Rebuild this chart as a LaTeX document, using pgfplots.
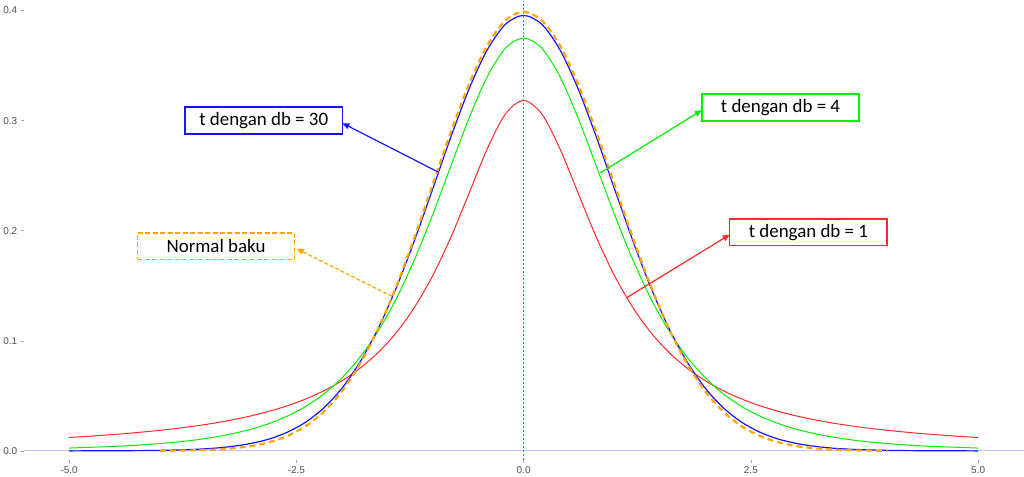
\documentclass[border=0pt]{standalone}
\usepackage{fontspec}
\setmainfont{Carlito}
\newfontfamily\tickfont{Liberation Sans}
\usepackage{pgfplots}
\usepackage{pgfplotstable}
\pgfplotsset{compat=1.18}
\usetikzlibrary{arrows.meta}

\definecolor{cred}{RGB}{255,40,40}
\definecolor{cgreen}{RGB}{0,240,0}
\definecolor{cblue}{RGB}{20,20,255}
\definecolor{corange}{RGB}{255,165,0}
\definecolor{zeroline}{RGB}{190,190,255}
\definecolor{midred}{RGB}{255,70,70}
\definecolor{tickgrey}{RGB}{77,77,77}

% densitas t (db = 1, 4, 30)
\pgfplotstableread{
x t1 t4 t30
-5.0 0.0122 0.0026 0.0000
-4.8 0.0132 0.0032 0.0001
-4.6 0.0144 0.0038 0.0001
-4.4 0.0156 0.0045 0.0002
-4.2 0.0171 0.0055 0.0003
-4.0 0.0187 0.0067 0.0005
-3.8 0.0206 0.0082 0.0009
-3.6 0.0228 0.0101 0.0015
-3.4 0.0253 0.0126 0.0025
-3.2 0.0283 0.0157 0.0042
-3.0 0.0318 0.0197 0.0068
-2.8 0.0360 0.0249 0.0108
-2.6 0.0410 0.0316 0.0170
-2.4 0.0471 0.0403 0.0260
-2.2 0.0545 0.0516 0.0389
-2.0 0.0637 0.0663 0.0568
-1.8 0.0751 0.0851 0.0807
-1.6 0.0894 0.1089 0.1112
-1.4 0.1075 0.1384 0.1483
-1.2 0.1305 0.1739 0.1913
-1.0 0.1592 0.2147 0.2380
-0.8 0.1941 0.2588 0.2852
-0.6 0.2341 0.3023 0.3288
-0.4 0.2744 0.3400 0.3643
-0.2 0.3061 0.3658 0.3875
0.0 0.3183 0.3750 0.3956
0.2 0.3061 0.3658 0.3875
0.4 0.2744 0.3400 0.3643
0.6 0.2341 0.3023 0.3288
0.8 0.1941 0.2588 0.2852
1.0 0.1592 0.2147 0.2380
1.2 0.1305 0.1739 0.1913
1.4 0.1075 0.1384 0.1483
1.6 0.0894 0.1089 0.1112
1.8 0.0751 0.0851 0.0807
2.0 0.0637 0.0663 0.0568
2.2 0.0545 0.0516 0.0389
2.4 0.0471 0.0403 0.0260
2.6 0.0410 0.0316 0.0170
2.8 0.0360 0.0249 0.0108
3.0 0.0318 0.0197 0.0068
3.2 0.0283 0.0157 0.0042
3.4 0.0253 0.0126 0.0025
3.6 0.0228 0.0101 0.0015
3.8 0.0206 0.0082 0.0009
4.0 0.0187 0.0067 0.0005
4.2 0.0171 0.0055 0.0003
4.4 0.0156 0.0045 0.0002
4.6 0.0144 0.0038 0.0001
4.8 0.0132 0.0032 0.0001
5.0 0.0122 0.0026 0.0000
}\tdata

% normal baku
\pgfplotstableread{
x z
-4.0 0.0001
-3.8 0.0003
-3.6 0.0006
-3.4 0.0012
-3.2 0.0024
-3.0 0.0044
-2.8 0.0079
-2.6 0.0136
-2.4 0.0224
-2.2 0.0355
-2.0 0.0540
-1.8 0.0790
-1.6 0.1109
-1.4 0.1497
-1.2 0.1942
-1.0 0.2420
-0.8 0.2897
-0.6 0.3332
-0.4 0.3683
-0.2 0.3910
0.0 0.3989
0.2 0.3910
0.4 0.3683
0.6 0.3332
0.8 0.2897
1.0 0.2420
1.2 0.1942
1.4 0.1497
1.6 0.1109
1.8 0.0790
2.0 0.0540
2.2 0.0355
2.4 0.0224
2.6 0.0136
2.8 0.0079
3.0 0.0044
3.2 0.0024
3.4 0.0012
3.6 0.0006
3.8 0.0003
4.0 0.0001
}\zdata

\begin{document}
\begin{tikzpicture}
\begin{axis}[
    scale only axis,
    width=1004pt, height=461pt,
    xmin=-5.5, xmax=5.5,
    ymin=-0.008, ymax=0.409,
    axis line style={draw=none},
    xtick={-5,-2.5,0,2.5,5},
    ytick={0,0.1,0.2,0.3,0.4},
    tick align=outside,
    major tick length=3pt,
    tick style={gray!70, line width=0.6pt},
    xtick pos=bottom, ytick pos=left,
    ticklabel style={font=\tickfont\fontsize{10}{10}\selectfont, text=tickgrey},
    /pgf/number format/.cd, fixed, fixed zerofill, precision=1, assume math mode=true,
    /pgfplots/.cd,
    clip=false,
]
% garis bantu
\addplot[draw=zeroline, line width=0.9pt, forget plot] coordinates {(-5.5,0) (5.5,0)};
\addplot[color=midred, dash pattern=on 2pt off 2pt, line width=1.3pt, forget plot] coordinates {(0,-0.008) (0,0.409)};

% kurva
\addplot[color=cred, line width=1pt, smooth] table[x=x, y=t1] {\tdata};
\addplot[color=cgreen, line width=1pt, smooth] table[x=x, y=t4] {\tdata};
\addplot[color=cblue, line width=1.2pt, smooth] table[x=x, y=t30] {\tdata};
\addplot[color=corange, line width=2.2pt, dash pattern=on 6pt off 4pt, smooth] table[x=x, y=z] {\zdata};

% anotasi
\tikzset{lab/.style={line width=1.5pt, fill=white, minimum width=158pt, minimum height=27pt,
    inner sep=0pt, font=\fontsize{19}{19}\selectfont}}
\node[lab, draw=cblue, text=black] at (axis cs:-2.859,0.300) {t dengan db = 30};
\draw[cblue, line width=1.2pt, -{Triangle[length=7pt,width=6pt]}] (axis cs:-0.942,0.2534) -- (axis cs:-1.993,0.2977);

\node[lab, draw=corange, line width=1.6pt, dash pattern=on 5pt off 2.5pt, text=black] at (axis cs:-3.384,0.186) {Normal baku};
\draw[corange, line width=1.2pt, dash pattern=on 4pt off 2pt, -{Triangle[length=7pt,width=6pt]}] (axis cs:-1.446,0.1403) -- (axis cs:-2.497,0.1837);

\node[lab, draw=cgreen, text=black] at (axis cs:2.826,0.3118) {t dengan db = 4};
\draw[cgreen, line width=1.2pt, -{Triangle[length=7pt,width=6pt]}] (axis cs:0.843,0.2525) -- (axis cs:1.961,0.3095);

\node[lab, draw=cred, text=black] at (axis cs:3.133,0.1986) {t dengan db = 1};
\draw[cred, line width=1.2pt, -{Triangle[length=7pt,width=6pt]}] (axis cs:1.139,0.1394) -- (axis cs:2.267,0.1964);
\end{axis}
\end{tikzpicture}
\end{document}
